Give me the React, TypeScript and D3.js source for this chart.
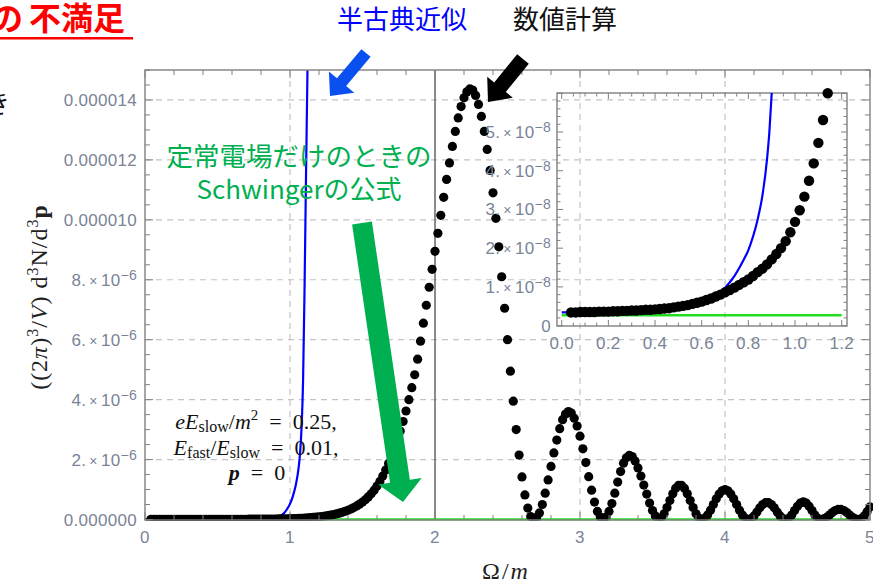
import React from "react";
import * as d3 from "d3";

// dots of the numerical result are evenly spaced in Omega/m
const OMEGA_START = 0.04;
const OMEGA_STEP = 0.02;

// numerical calculation, ((2pi)^3/V) d^3N/d^3p in units of 1e-6 (one value per dot)
const numericValues = [
  0.0034, 0.0034, 0.0035, 0.0035, 0.0035, 0.0035, 0.0036, 0.0036, 0.0036, 0.0037, // 0.04
  0.0037, 0.0038, 0.0038, 0.0039, 0.0039, 0.004, 0.0041, 0.0041, 0.0042, 0.0043, // 0.24
  0.0044, 0.0045, 0.0047, 0.0049, 0.0051, 0.0053, 0.0056, 0.0059, 0.0062, 0.0066, // 0.44
  0.007, 0.0075, 0.008, 0.0086, 0.0092, 0.0098, 0.0105, 0.0112, 0.0119, 0.0128, // 0.64
  0.0138, 0.0147, 0.0158, 0.0171, 0.0185, 0.02, 0.0218, 0.0241, 0.0268, 0.0298, // 0.84
  0.0333, 0.0374, 0.0419, 0.0472, 0.0531, 0.06, 0.068, 0.077, 0.088, 0.1, // 1.04
  0.113, 0.128, 0.145, 0.165, 0.187, 0.212, 0.24, 0.272, 0.308, 0.35, // 1.24
  0.398, 0.452, 0.513, 0.583, 0.663, 0.755, 0.86, 0.98, 1.115, 1.27, // 1.44
  1.45, 1.65, 1.87, 2.11, 2.37, 2.65, 2.95, 3.27, 3.62, 4.0, // 1.64
  4.4, 4.83, 5.35, 5.95, 6.55, 7.15, 7.75, 8.35, 8.95, 9.55, // 1.84
  10.15, 10.75, 11.35, 11.9, 12.45, 12.95, 13.4, 13.78, 14.07, 14.27, // 2.04
  14.37, 14.33, 14.15, 13.85, 13.45, 12.95, 12.35, 11.65, 10.9, 10.05, // 2.24
  9.1, 8.1, 7.05, 6.0, 4.95, 3.95, 3.0, 2.15, 1.42, 0.82, // 2.44
  0.38, 0.1, 0.01, 0.06, 0.22, 0.5, 0.88, 1.32, 1.77, 2.22, // 2.64
  2.65, 3.03, 3.33, 3.52, 3.6, 3.55, 3.38, 3.12, 2.78, 2.36, // 2.84
  1.9, 1.43, 0.98, 0.58, 0.27, 0.08, 0.01, 0.08, 0.27, 0.53, // 3.04
  0.88, 1.25, 1.6, 1.88, 2.06, 2.14, 2.1, 1.95, 1.72, 1.45, // 3.24
  1.15, 0.85, 0.55, 0.3, 0.12, 0.02, 0.05, 0.19, 0.4, 0.63, // 3.44
  0.86, 1.04, 1.14, 1.14, 1.04, 0.86, 0.63, 0.4, 0.19, 0.05, // 3.64
  0.0, 0.04, 0.15, 0.31, 0.5, 0.69, 0.85, 0.96, 1.0, 0.96, // 3.84
  0.85, 0.69, 0.5, 0.31, 0.15, 0.04, 0.0, 0.03, 0.12, 0.25, // 4.04
  0.39, 0.5, 0.56, 0.56, 0.5, 0.39, 0.25, 0.12, 0.03, 0.0, // 4.24
  0.04, 0.15, 0.3, 0.44, 0.55, 0.59, 0.55, 0.44, 0.3, 0.15, // 4.44
  0.04, 0.0, 0.02, 0.07, 0.15, 0.23, 0.3, 0.335, 0.335, 0.3, // 4.64
  0.23, 0.15, 0.07, 0.02, 0.0, 0.03, 0.12, 0.26, 0.42, // 4.84
];

// semiclassical approximation (blue curve), same units
const semiOmega = [
  0.0, 0.1, 0.2, 0.3, 0.4, 0.5, 0.6, 0.66, 0.7, 0.74, 0.78, 0.8, 0.82, 0.84, 0.86, 0.88, 0.89,
  0.9, 0.91, 0.92, 0.94, 0.96, 0.98, 1.0, 1.02, 1.04, 1.06, 1.07, 1.08, 1.09, 1.1, 1.11, 1.12, 1.13,
];
const semiValues = [
  0.0034, 0.0035, 0.0036, 0.0039, 0.0042, 0.0049, 0.0062, 0.0078, 0.0098, 0.0128, 0.017, 0.0195,
  0.023, 0.0275, 0.0335, 0.043, 0.05, 0.06, 0.073, 0.09, 0.14, 0.22, 0.35, 0.52, 0.78, 1.15, 1.75,
  2.25, 3.1, 4.6, 7.6, 11.3, 14.8, 18.5,
];

// Schwinger formula for a constant field only (green line)
const schwingerOmega = [0, 5];
const schwingerValues = [0.0027, 0.0027];

const xTicks = [0, 1, 2, 3, 4, 5];
const xTickLabels = ["0", "1", "2", "3", "4", "5"];
const yTicks = [0, 2, 4, 6, 8, 10, 12, 14];
const yTickLabels = ["0.000000", "2.|−6", "4.|−6", "6.|−6", "8.|−6", "0.000010", "0.000012", "0.000014"];
const xGridLines = [1, 3, 4];
const markerOmega = 2;
const yGridLines = [2, 4, 6, 8, 10, 12, 14];

const insetXTicks = [0, 0.2, 0.4, 0.6, 0.8, 1.0, 1.2];
const insetXTickLabels = ["0.0", "0.2", "0.4", "0.6", "0.8", "1.0", "1.2"];
const insetYTicks = [0, 0.01, 0.02, 0.03, 0.04, 0.05];
const insetYTickLabels = ["0", "1.|−8", "2.|−8", "3.|−8", "4.|−8", "5.|−8"];

const W = 873;
const H = 584;
const F = { l: 145, r: 870, t: 70, b: 520 };
const I = { l: 557, r: 847, t: 93, b: 326 };

const SANS = "'Liberation Sans', Arial, sans-serif";
const SERIF = "'Liberation Serif', 'Times New Roman', serif";
const CJK = "'Noto Sans CJK JP', sans-serif";
const tickText = "#7a8497";
const frameColor = "#808080";
const gridColor = "#c4c4c4";

function sciLabel(label: string) {
  const [m, e] = label.split("|");
  if (e === undefined) return m;
  return (
    <>
      {m}
      <tspan fontSize={14}>{"\u2009×\u2009"}</tspan>10
      <tspan fontSize={14} dy={-6}>
        {e}
      </tspan>
    </>
  );
}

// block arrow polygon from tail centre to tip
function arrowPoints(tx: number, ty: number, px: number, py: number, w: number, hw: number, hl: number) {
  const len = Math.hypot(px - tx, py - ty);
  const ux = (px - tx) / len;
  const uy = (py - ty) / len;
  const nx = -uy;
  const ny = ux;
  const bx = px - ux * hl;
  const by = py - uy * hl;
  const pts = [
    [tx + (nx * w) / 2, ty + (ny * w) / 2],
    [bx + (nx * w) / 2, by + (ny * w) / 2],
    [bx + (nx * hw) / 2, by + (ny * hw) / 2],
    [px, py],
    [bx - (nx * hw) / 2, by - (ny * hw) / 2],
    [bx - (nx * w) / 2, by - (ny * w) / 2],
    [tx - (nx * w) / 2, ty - (ny * w) / 2],
  ];
  return pts.map((p) => p.join(",")).join(" ");
}

export default function App() {
  const x = d3.scaleLinear().domain([0, 5]).range([F.l, F.r]);
  const y = d3.scaleLinear().domain([0, 15]).range([519.5, F.t]);
  const xi = d3.scaleLinear().domain([0, 1.2]).range([561.7, 841.7]);
  const yi = d3.scaleLinear().domain([0, 0.06]).range([325.6, 93.3]);

  const dots = numericValues.map((v, i) => ({ o: OMEGA_START + i * OMEGA_STEP, v }));
  const semi = semiOmega.map((o, i) => [o, semiValues[i]] as [number, number]);
  const schw = schwingerOmega.map((o, i) => [o, schwingerValues[i]] as [number, number]);

  const mainLine = d3
    .line<[number, number]>()
    .x((d) => x(d[0]))
    .y((d) => y(d[1]))
    .curve(d3.curveMonotoneX);
  const insetLine = d3
    .line<[number, number]>()
    .x((d) => xi(d[0]))
    .y((d) => yi(d[1]))
    .curve(d3.curveMonotoneX);

  const xMinor = d3.range(0, 5.001, 0.2);
  const yMinor = d3.range(0, 15.001, 0.5);
  const xiMinor = d3.range(0, 1.2001, 0.05);
  const yiMinor = d3.range(0, 0.0601, 0.002);
  const isMajor = (v: number, step: number) => Math.abs(v / step - Math.round(v / step)) < 1e-6;

  const tickLines: JSX.Element[] = [];
  xMinor.forEach((v, i) => {
    const len = isMajor(v, 1) ? 8 : 5;
    tickLines.push(<line key={"xb" + i} x1={x(v)} x2={x(v)} y1={F.b} y2={F.b - len} />);
    tickLines.push(<line key={"xt" + i} x1={x(v)} x2={x(v)} y1={F.t} y2={F.t + len} />);
  });
  yMinor.forEach((v, i) => {
    const len = isMajor(v, 2) ? 8 : 5;
    tickLines.push(<line key={"yl" + i} x1={F.l} x2={F.l + len} y1={y(v)} y2={y(v)} />);
    tickLines.push(<line key={"yr" + i} x1={F.r} x2={F.r - len} y1={y(v)} y2={y(v)} />);
  });
  xiMinor.forEach((v, i) => {
    const len = isMajor(v, 0.2) ? 6 : 3.5;
    tickLines.push(<line key={"ixb" + i} x1={xi(v)} x2={xi(v)} y1={I.b} y2={I.b - len} />);
    tickLines.push(<line key={"ixt" + i} x1={xi(v)} x2={xi(v)} y1={I.t} y2={I.t + len} />);
  });
  yiMinor.forEach((v, i) => {
    const len = isMajor(v, 0.01) ? 6 : 3.5;
    tickLines.push(<line key={"iyl" + i} x1={I.l} x2={I.l + len} y1={yi(v)} y2={yi(v)} />);
    tickLines.push(<line key={"iyr" + i} x1={I.r} x2={I.r - len} y1={yi(v)} y2={yi(v)} />);
  });

  return (
    <svg
      width={W}
      height={H}
      viewBox={`0 0 ${W} ${H}`}
      style={{ position: "absolute", left: 0, top: 0, background: "#fff" }}
    >
      <defs>
        <clipPath id="mainClip">
          <rect x={F.l - 6} y={F.t} width={W - F.l + 6} height={F.b - F.t + 0.5} />
        </clipPath>
        <clipPath id="insetClip">
          <rect x={I.l} y={I.t} width={xi(1.2) - I.l} height={I.b - I.t} />
        </clipPath>
      </defs>
      <rect width={W} height={H} fill="#fff" />

      {/* grid */}
      <g stroke={gridColor} strokeWidth={1.2} strokeDasharray="6,5">
        {xGridLines.map((v) => (
          <line key={"gx" + v} x1={x(v)} x2={x(v)} y1={F.t} y2={F.b} />
        ))}
        {yGridLines.map((v) => (
          <line key={"gy" + v} x1={F.l} x2={F.r} y1={y(v)} y2={y(v)} />
        ))}
      </g>
      <line x1={x(markerOmega)} x2={x(markerOmega)} y1={F.t} y2={F.b} stroke="#6e6e6e" strokeWidth={1.6} />

      {/* main curves */}
      <g clipPath="url(#mainClip)">
        <path d={mainLine(schw) ?? ""} fill="none" stroke="#22dd22" strokeWidth={2.5} />
        <path d={mainLine(semi) ?? ""} fill="none" stroke="#0000ff" strokeWidth={2.2} />
        {dots.map((d, i) => (
          <circle key={"d" + i} cx={x(d.o)} cy={y(d.v)} r={4.6} fill="#000" />
        ))}
      </g>

      {/* frames and ticks */}
      <rect x={F.l} y={F.t} width={F.r - F.l} height={F.b - F.t} fill="none" stroke={frameColor} strokeWidth={1.4} />
      <rect x={I.l} y={I.t} width={I.r - I.l} height={I.b - I.t} fill="none" stroke={frameColor} strokeWidth={1.4} />
      <g stroke={frameColor} strokeWidth={1}>{tickLines}</g>

      {/* tick labels */}
      <g fontFamily={SANS} fontSize={17} fill={tickText} letterSpacing={0.3}>
        {xTicks.map((v, i) => (
          <text key={"xl" + i} x={x(v)} y={543} textAnchor="middle">
            {xTickLabels[i]}
          </text>
        ))}
        {yTicks.map((v, i) => (
          <text key={"yl" + i} x={137} y={y(v) + 6} textAnchor="end">
            {sciLabel(yTickLabels[i])}
          </text>
        ))}
        {insetXTicks.map((v, i) => (
          <text key={"ixl" + i} x={xi(v)} y={349} textAnchor="middle">
            {insetXTickLabels[i]}
          </text>
        ))}
        {insetYTicks.map((v, i) => (
          <text key={"iyl" + i} x={551} y={yi(v) + 6} textAnchor="end">
            {sciLabel(insetYTickLabels[i])}
          </text>
        ))}
      </g>

      {/* inset curves */}
      <g clipPath="url(#insetClip)">
        <path d={insetLine(schw) ?? ""} fill="none" stroke="#22dd22" strokeWidth={2.5} />
        <path d={insetLine(semi) ?? ""} fill="none" stroke="#0000ff" strokeWidth={2.2} />
      </g>
      {dots
        .filter((d) => d.v <= 0.0605)
        .map((d, i) => (
          <circle key={"id" + i} cx={xi(d.o)} cy={yi(d.v)} r={5.2} fill="#000" />
        ))}

      {/* axis titles */}
      <text
        transform="translate(47,297) rotate(-90)"
        textAnchor="middle"
        fontFamily={SERIF}
        fontSize={24}
        fill="#222"
        letterSpacing={1}
      >
        ((2<tspan fontStyle="italic">π</tspan>)
        <tspan fontSize={16} dy={-9}>
          3
        </tspan>
        <tspan dy={9}>/</tspan>
        <tspan fontStyle="italic">V</tspan>) d
        <tspan fontSize={16} dy={-9}>
          3
        </tspan>
        <tspan dy={9}>N/d</tspan>
        <tspan fontSize={16} dy={-9}>
          3
        </tspan>
        <tspan dy={9} fontWeight="bold">
          p
        </tspan>
      </text>
      <text x={506} y={579} textAnchor="middle" fontFamily={SERIF} fontSize={24} fill="#222" letterSpacing={2}>
        Ω/<tspan fontStyle="italic">m</tspan>
      </text>

      {/* parameter note */}
      <g fontFamily={SERIF} fontSize={22} fill="#111" textAnchor="middle">
        <text x={256} y={429}>
          <tspan fontStyle="italic">eE</tspan>
          <tspan fontSize={16} dy={3}>
            slow
          </tspan>
          <tspan dy={-3}>/</tspan>
          <tspan fontStyle="italic">m</tspan>
          <tspan fontSize={15} dy={-9}>
            2
          </tspan>
          <tspan dy={9}>{"\u2002=\u20020.25,"}</tspan>
        </text>
        <text x={256} y={455}>
          <tspan fontStyle="italic">E</tspan>
          <tspan fontSize={16} dy={3}>
            fast
          </tspan>
          <tspan dy={-3}>/</tspan>
          <tspan fontStyle="italic">E</tspan>
          <tspan fontSize={16} dy={3}>
            slow
          </tspan>
          <tspan dy={-3}>{"\u2002=\u20020.01,"}</tspan>
        </text>
        <text x={257} y={480}>
          <tspan fontStyle="italic" fontWeight="bold">
            p
          </tspan>
          {"\u2002=\u20020"}
        </text>
      </g>

      {/* annotations */}
      <g fontFamily={CJK}>
        <text x={-9} y={30} fontSize={32} fontWeight="bold" fill="#ff0000">
          の
        </text>
        <text x={29} y={30} fontSize={32} fontWeight="bold" fill="#ff0000">
          不満足
        </text>
        <rect x={0} y={37} width={133} height={2.5} fill="#ff0000" />
        <text x={-16} y={113} fontSize={26} fill="#111">
          き
        </text>
        <text x={402} y={29} fontSize={26} fill="#0000ff" textAnchor="middle">
          半古典近似
        </text>
        <text x={565} y={29} fontSize={26} fill="#111" textAnchor="middle">
          数値計算
        </text>
        <text x={299} y={166} fontSize={26.5} fill="#00b050" textAnchor="middle">
          定常電場だけのときの
        </text>
        <text x={299} y={199} fontSize={26} fill="#00b050" textAnchor="middle">
          Schwingerの公式
        </text>
      </g>
      <polygon points={arrowPoints(366, 53, 330, 96, 12, 33, 18)} fill="#0a50f0" />
      <polygon points={arrowPoints(523, 59, 488, 102, 15, 33, 19)} fill="#000" />
      <polygon points={arrowPoints(362, 223, 403, 502, 20, 44, 21)} fill="#00b050" />
    </svg>
  );
}
